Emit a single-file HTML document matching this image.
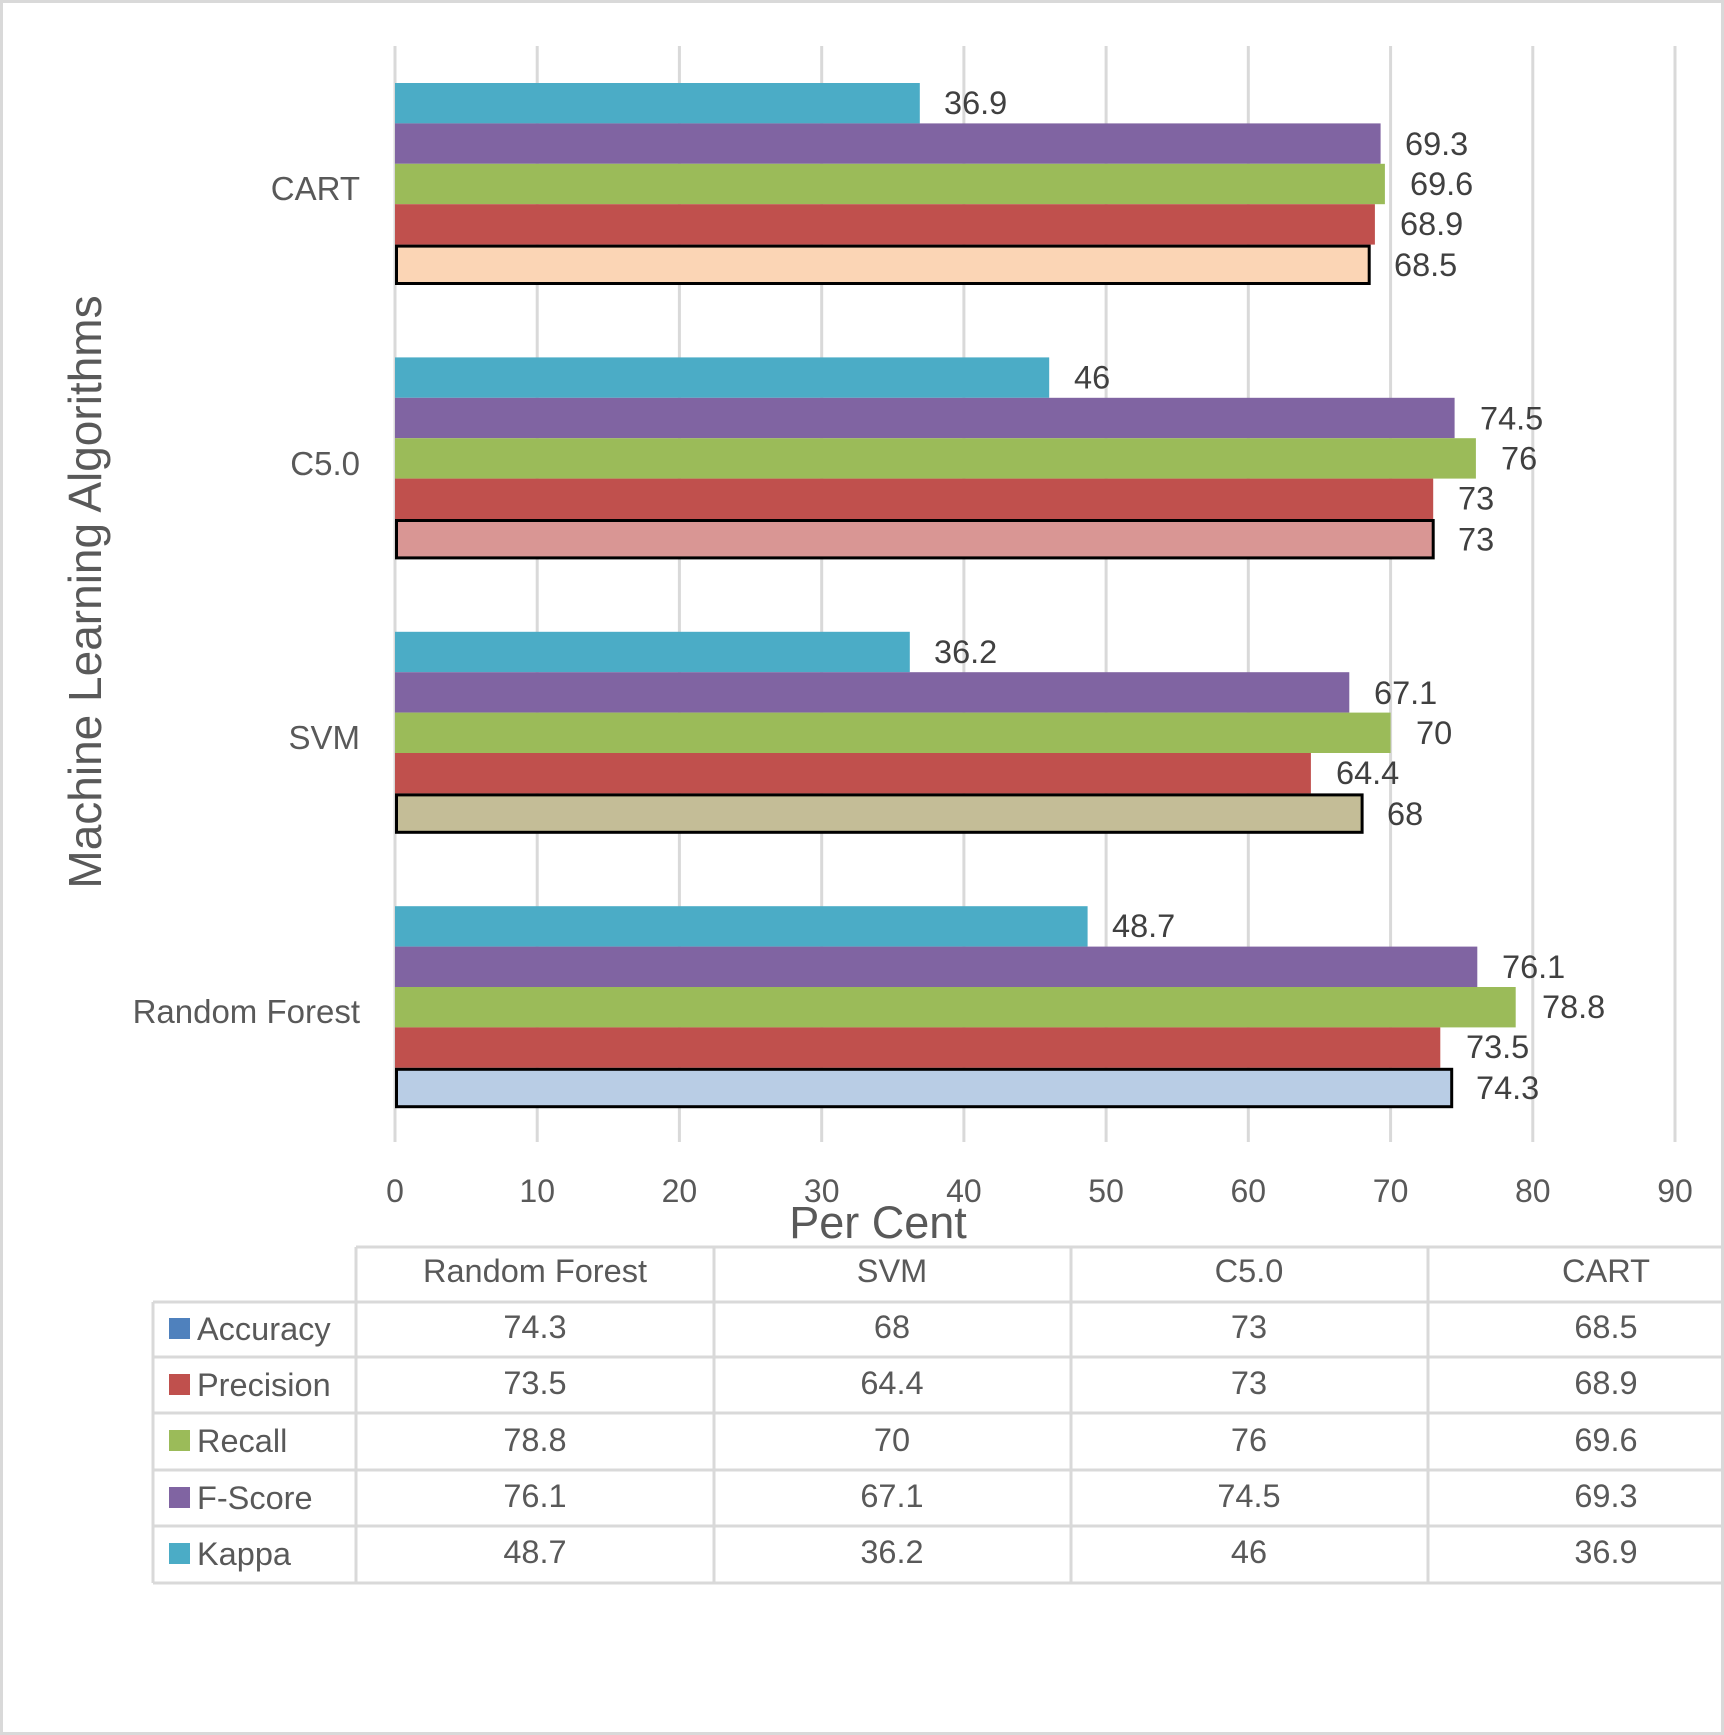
<!DOCTYPE html>
<html><head><meta charset="utf-8"><style>
html,body{margin:0;padding:0;background:#fff;}
svg{display:block;font-family:"Liberation Sans",sans-serif;}
</style></head><body>
<svg width="1724" height="1735" viewBox="0 0 1724 1735" xmlns="http://www.w3.org/2000/svg">
<rect x="1.5" y="1.5" width="1721" height="1732" fill="#fff" stroke="#d9d9d9" stroke-width="3"/>
<g stroke="#d9d9d9" stroke-width="3">
<line x1="395" y1="46" x2="395" y2="1142"/><line x1="537.2" y1="46" x2="537.2" y2="1142"/>
<line x1="679.4" y1="46" x2="679.4" y2="1142"/><line x1="821.7" y1="46" x2="821.7" y2="1142"/>
<line x1="963.9" y1="46" x2="963.9" y2="1142"/><line x1="1106.1" y1="46" x2="1106.1" y2="1142"/>
<line x1="1248.3" y1="46" x2="1248.3" y2="1142"/><line x1="1390.6" y1="46" x2="1390.6" y2="1142"/>
<line x1="1532.8" y1="46" x2="1532.8" y2="1142"/><line x1="1675" y1="46" x2="1675" y2="1142"/>
</g>
<g font-size="32" fill="#595959" text-anchor="middle">
<text x="395" y="1202">0</text><text x="537.2" y="1202">10</text><text x="679.4" y="1202">20</text>
<text x="821.7" y="1202">30</text><text x="963.9" y="1202">40</text><text x="1106.1" y="1202">50</text>
<text x="1248.3" y="1202">60</text><text x="1390.6" y="1202">70</text><text x="1532.8" y="1202">80</text>
<text x="1675" y="1202">90</text>
</g>
<text x="878" y="1238" font-size="45" fill="#595959" text-anchor="middle">Per Cent</text>
<text transform="translate(101,592) rotate(-90)" font-size="46" fill="#595959" text-anchor="middle">Machine Learning Algorithms</text>
<g font-size="33" fill="#595959" text-anchor="end">
<text x="360" y="200">CART</text><text x="360" y="475">C5.0</text>
<text x="360" y="749">SVM</text><text x="360" y="1023">Random Forest</text>
</g>
<g font-size="32.5" fill="#404040">
<g>
<rect x="395" y="83" width="524.8" height="40.4" fill="#4BACC6"/>
<rect x="395" y="123.4" width="985.6" height="40.4" fill="#8064A2"/>
<rect x="395" y="163.8" width="989.9" height="40.4" fill="#9BBB59"/>
<rect x="395" y="204.2" width="979.9" height="40.4" fill="#C0504D"/>
<rect x="396.5" y="246.1" width="972.7" height="37.4" fill="#FBD5B5" stroke="#000" stroke-width="3"/>
<text x="944" y="114">36.9</text><text x="1405" y="155">69.3</text><text x="1410" y="195">69.6</text>
<text x="1400" y="235">68.9</text><text x="1394" y="276">68.5</text>
</g>
<g transform="translate(0,274.4)">
<rect x="395" y="83" width="654.2" height="40.4" fill="#4BACC6"/>
<rect x="395" y="123.4" width="1059.6" height="40.4" fill="#8064A2"/>
<rect x="395" y="163.8" width="1080.9" height="40.4" fill="#9BBB59"/>
<rect x="395" y="204.2" width="1038.2" height="40.4" fill="#C0504D"/>
<rect x="396.5" y="246.1" width="1036.7" height="37.4" fill="#D99694" stroke="#000" stroke-width="3"/>
<text x="1074" y="114">46</text><text x="1480" y="155">74.5</text><text x="1501" y="195">76</text>
<text x="1458" y="235">73</text><text x="1458" y="276">73</text>
</g>
<g transform="translate(0,548.8)">
<rect x="395" y="83" width="514.8" height="40.4" fill="#4BACC6"/>
<rect x="395" y="123.4" width="954.3" height="40.4" fill="#8064A2"/>
<rect x="395" y="163.8" width="995.6" height="40.4" fill="#9BBB59"/>
<rect x="395" y="204.2" width="915.9" height="40.4" fill="#C0504D"/>
<rect x="396.5" y="246.1" width="965.6" height="37.4" fill="#C4BD97" stroke="#000" stroke-width="3"/>
<text x="934" y="114">36.2</text><text x="1374" y="155">67.1</text><text x="1416" y="195">70</text>
<text x="1336" y="235">64.4</text><text x="1387" y="276">68</text>
</g>
<g transform="translate(0,823.2)">
<rect x="395" y="83" width="692.6" height="40.4" fill="#4BACC6"/>
<rect x="395" y="123.4" width="1082.3" height="40.4" fill="#8064A2"/>
<rect x="395" y="163.8" width="1120.7" height="40.4" fill="#9BBB59"/>
<rect x="395" y="204.2" width="1045.3" height="40.4" fill="#C0504D"/>
<rect x="396.5" y="246.1" width="1055.2" height="37.4" fill="#B9CDE5" stroke="#000" stroke-width="3"/>
<text x="1112" y="114">48.7</text><text x="1502" y="155">76.1</text><text x="1542" y="195">78.8</text>
<text x="1466" y="235">73.5</text><text x="1476" y="276">74.3</text>
</g>
</g>
<g stroke="#d9d9d9" stroke-width="3" fill="none">
<line x1="356" y1="1247" x2="1724" y2="1247"/>
<line x1="153" y1="1302" x2="1724" y2="1302"/>
<line x1="153" y1="1357" x2="1724" y2="1357"/>
<line x1="153" y1="1413" x2="1724" y2="1413"/>
<line x1="153" y1="1470" x2="1724" y2="1470"/>
<line x1="153" y1="1526" x2="1724" y2="1526"/>
<line x1="153" y1="1583" x2="1724" y2="1583"/>
<line x1="153" y1="1302" x2="153" y2="1583"/>
<line x1="356" y1="1247" x2="356" y2="1583"/>
<line x1="714" y1="1247" x2="714" y2="1583"/>
<line x1="1071" y1="1247" x2="1071" y2="1583"/>
<line x1="1428" y1="1247" x2="1428" y2="1583"/>
</g>
<rect x="169" y="1318" width="21" height="21" fill="#4F81BD"/>
<rect x="169" y="1374" width="21" height="21" fill="#C0504D"/>
<rect x="169" y="1430" width="21" height="21" fill="#9BBB59"/>
<rect x="169" y="1487" width="21" height="21" fill="#8064A2"/>
<rect x="169" y="1543" width="21" height="21" fill="#4BACC6"/>
<g font-size="32.5" fill="#595959">
<text x="197" y="1340">Accuracy</text><text x="197" y="1396">Precision</text>
<text x="197" y="1452">Recall</text><text x="197" y="1509">F-Score</text><text x="197" y="1565">Kappa</text>
</g>
<g font-size="32.5" fill="#595959" text-anchor="middle">
<text x="535" y="1282">Random Forest</text><text x="892" y="1282">SVM</text>
<text x="1249" y="1282">C5.0</text><text x="1606" y="1282">CART</text>
<text x="535" y="1338">74.3</text><text x="892" y="1338">68</text><text x="1249" y="1338">73</text><text x="1606" y="1338">68.5</text>
<text x="535" y="1394">73.5</text><text x="892" y="1394">64.4</text><text x="1249" y="1394">73</text><text x="1606" y="1394">68.9</text>
<text x="535" y="1451">78.8</text><text x="892" y="1451">70</text><text x="1249" y="1451">76</text><text x="1606" y="1451">69.6</text>
<text x="535" y="1507">76.1</text><text x="892" y="1507">67.1</text><text x="1249" y="1507">74.5</text><text x="1606" y="1507">69.3</text>
<text x="535" y="1563">48.7</text><text x="892" y="1563">36.2</text><text x="1249" y="1563">46</text><text x="1606" y="1563">36.9</text>
</g>
</svg>
</body></html>
